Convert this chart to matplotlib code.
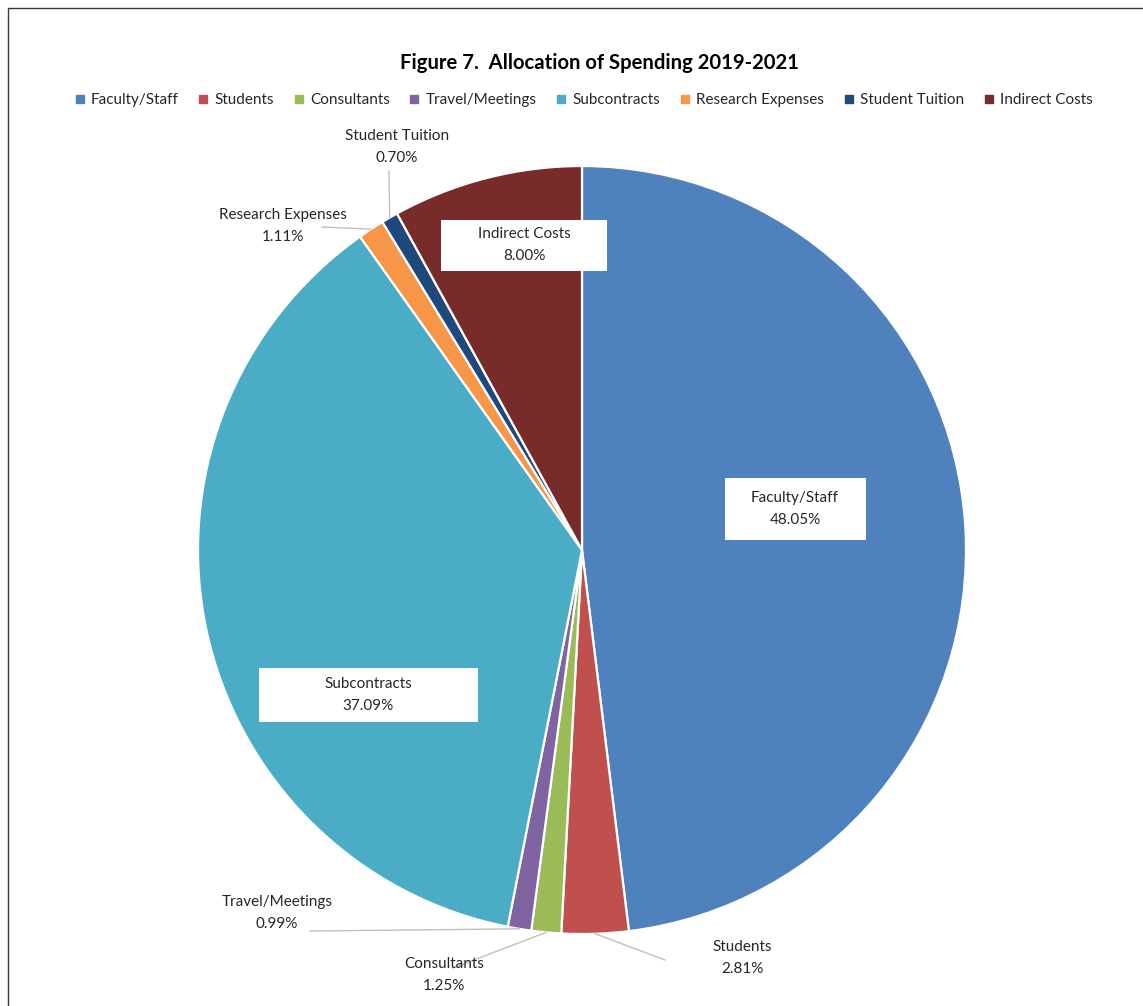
import numpy as np
import matplotlib.pyplot as plt
from matplotlib.lines import Line2D
from matplotlib.patches import Rectangle

plt.rcParams['font.family'] = ['Lato', 'DejaVu Sans']

categories = ['Faculty/Staff', 'Students', 'Consultants', 'Travel/Meetings',
              'Subcontracts', 'Research Expenses', 'Student Tuition', 'Indirect Costs']
shares = [48.05, 2.81, 1.25, 0.99, 37.09, 1.11, 0.70, 8.00]
colors = ['#4F81BD', '#C0504D', '#9BBB59', '#8064A2',
          '#4BACC6', '#F79646', '#1F497D', '#772C2A']

W, H = 1143, 1006
fig = plt.figure(figsize=(W / 100, H / 100), dpi=100)
ax = fig.add_axes([0, 0, 1, 1])

# outer chart frame
fig.patches.append(Rectangle((8 / W, -0.1), 1.2, 1 - 8 / H + 0.1, transform=fig.transFigure,
                             fill=False, edgecolor='#3a3a3a', linewidth=1))

cx, cy, r = 582, H - 550, 384
wedges, _ = ax.pie(shares, colors=colors, startangle=90, counterclock=False,
                   center=(cx, cy), radius=r, frame=True,
                   wedgeprops=dict(edgecolor='white', linewidth=1.6))
ax.set_xlim(0, W)
ax.set_ylim(0, H)
ax.set_aspect('equal')
ax.axis('off')

def rim_point(i):
    w = wedges[i]
    ang = np.deg2rad((w.theta1 + w.theta2) / 2)
    return cx + r * np.cos(ang), cy + r * np.sin(ang)

fs = 11
txtc = '#262626'

# labels inside white boxes
boxed = {0: (795, 509, 141, 62), 4: (368, 695, 219, 54), 7: (524, 245, 166, 51)}
for i, (bx, by, bw, bh) in boxed.items():
    ax.add_patch(Rectangle((bx - bw / 2, H - by - bh / 2), bw, bh,
                           facecolor='white', edgecolor='none', zorder=3))
    ax.text(bx, H - by, f'{categories[i]}\n{shares[i]:.2f}%', ha='center', va='center',
            fontsize=fs, color=txtc, linespacing=1.65, zorder=4)

# outside labels with leader lines
outside = {
    6: ((397, 147), (389, 171)),
    5: ((283, 226), (322, 227)),
    3: ((277, 913), (310, 931)),
    2: ((444, 975), (453, 968)),
    1: ((742, 958), (665, 960)),
}
for i, ((tx, ty), (ex, ey)) in outside.items():
    sx, sy = rim_point(i)
    ax.plot([sx, ex], [sy, H - ey], color='#bfbfbf', linewidth=1, zorder=1)
    ax.text(tx, H - ty, f'{categories[i]}\n{shares[i]:.2f}%', ha='center', va='center',
            fontsize=fs, color=txtc, linespacing=1.65, zorder=4)

fig.text(599 / W, 1 - 63 / H, 'Figure 7.  Allocation of Spending 2019-2021',
         ha='center', va='center', fontsize=14.6, fontweight='bold', color='black')

handles = [Line2D([], [], marker='s', linestyle='none', markersize=5.5,
                  markerfacecolor=c, markeredgecolor=c) for c in colors]
fig.legend(handles, categories, loc='center', bbox_to_anchor=(584 / W, 1 - 100 / H),
           ncol=len(categories), frameon=False, fontsize=fs, labelcolor=txtc,
           handlelength=0.6, handletextpad=0.45, columnspacing=1.3, borderpad=0)

fig.savefig('out.png', dpi=100, facecolor='white')
